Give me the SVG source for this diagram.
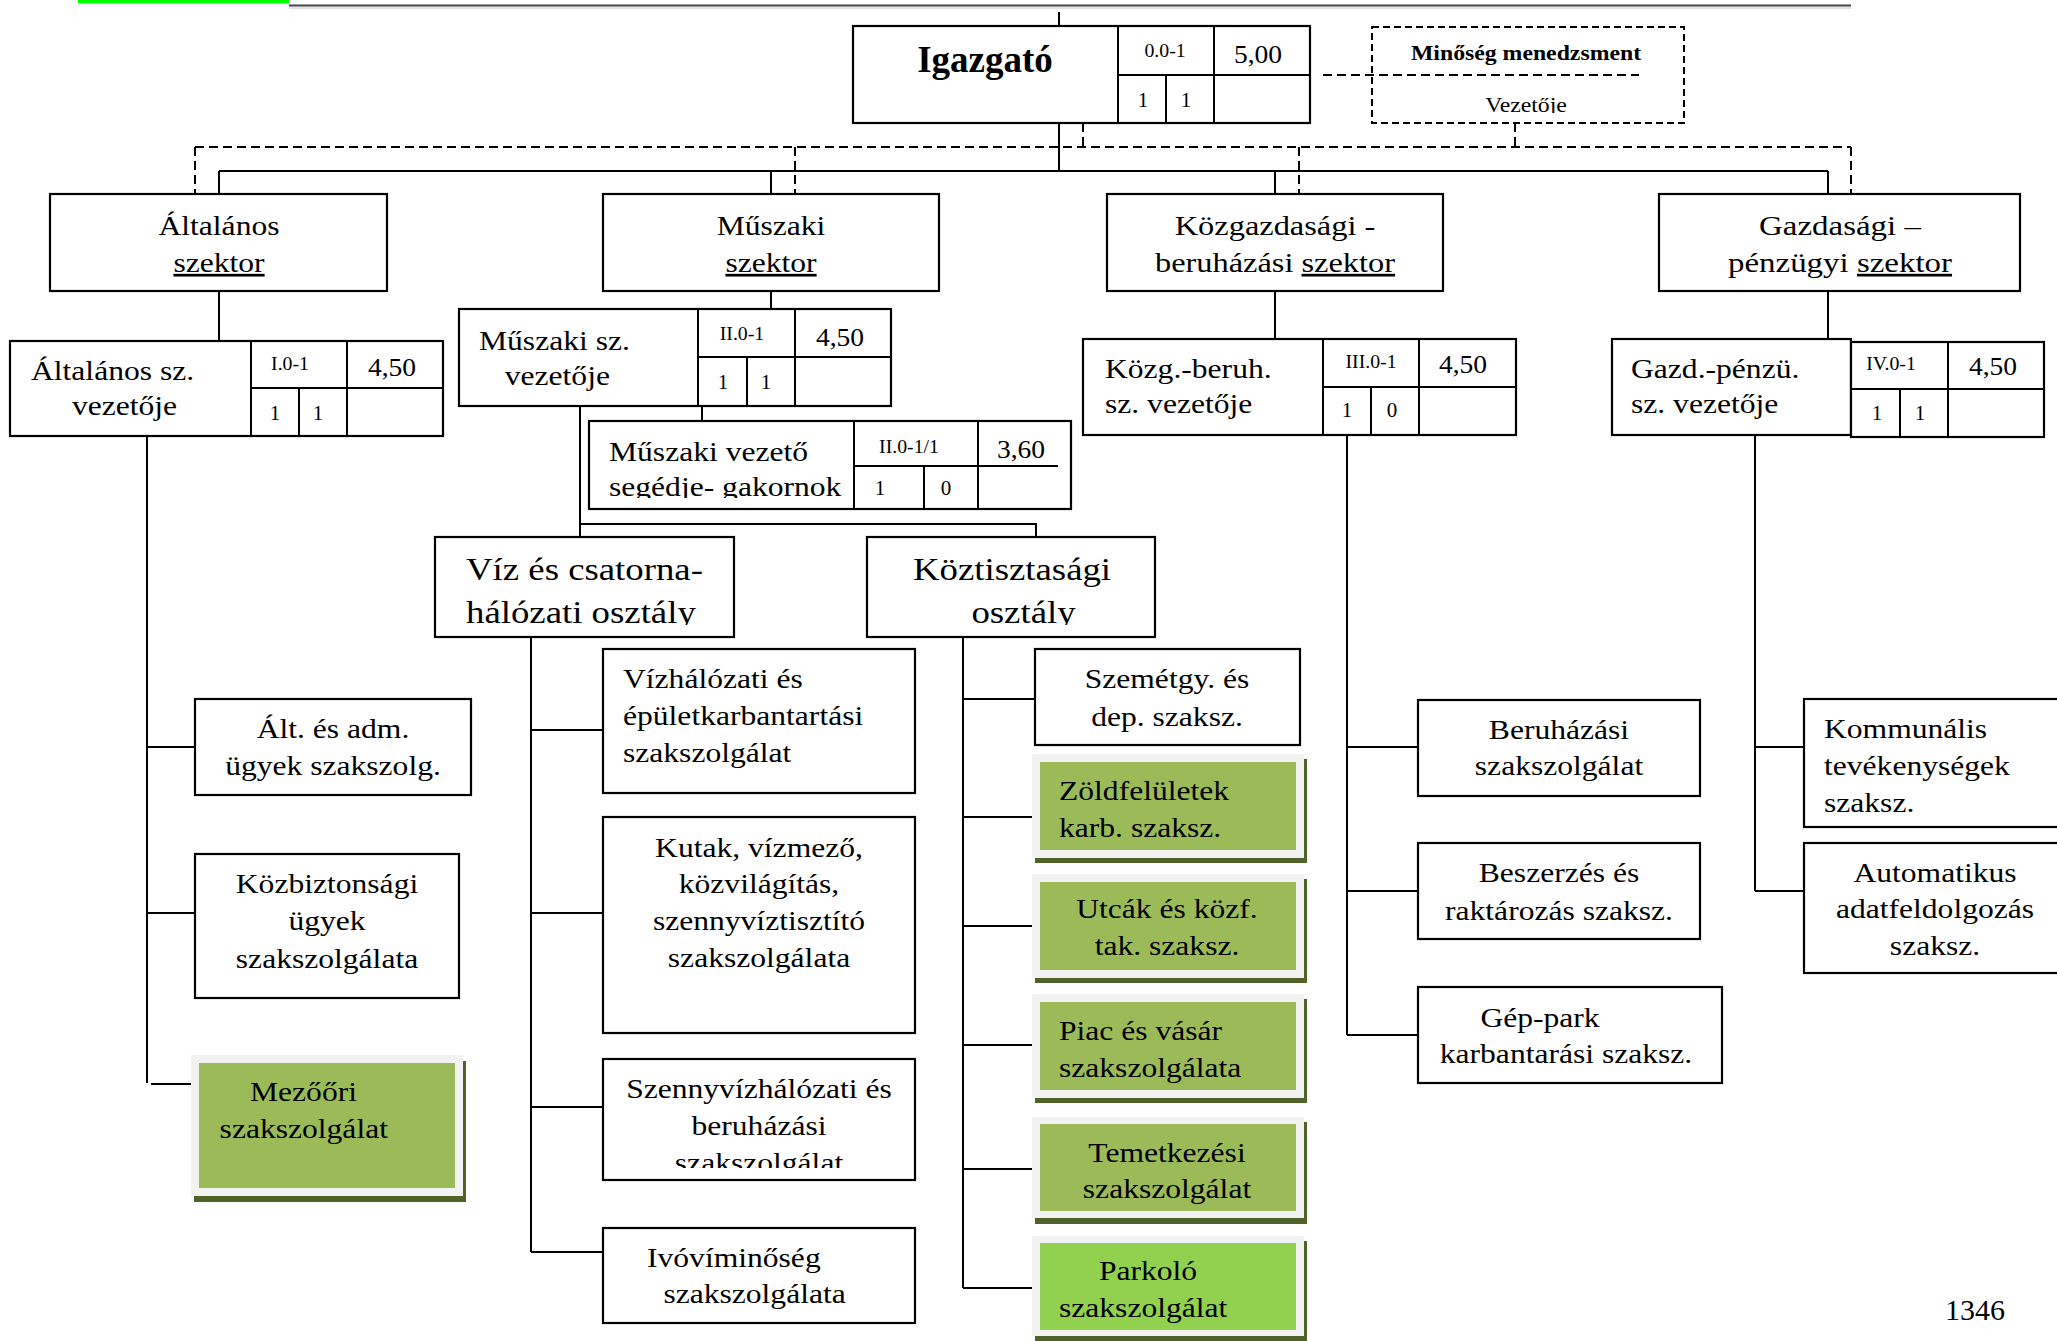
<svg xmlns="http://www.w3.org/2000/svg" width="2057" height="1341" viewBox="0 0 2057 1341">
<style>
.bx{fill:#fff;stroke:#000;stroke-width:2.2}
.ln{fill:none;stroke:#000;stroke-width:2}
.dl{fill:none;stroke:#000;stroke-width:2;stroke-dasharray:9 5}
.t{font-family:"Liberation Serif","Times New Roman",serif;font-size:27px;fill:#000}
.c{text-anchor:middle}
.sm{font-size:18px}
.md{font-size:25px}
.nm{font-size:21px}
.big{font-size:32px}
.hd{font-size:37px;font-weight:bold}
.mq{font-size:22px}
.b{font-weight:bold}
.pg{font-size:30px}
.u{text-decoration:underline}
.gb{fill:#f2f2f2}
.gs{fill:#4f6228}
.gi{fill:#9bbb59}
.gp{fill:#92d050}
</style>
<defs>
<clipPath id="clipVez"><rect x="1372" y="27" width="312" height="86"/></clipPath>
<clipPath id="clipSeg"><rect x="589" y="421" width="265" height="77"/></clipPath>
<clipPath id="clipViz"><rect x="435" y="537" width="299" height="88"/></clipPath>
<clipPath id="clipKoz"><rect x="867" y="537" width="288" height="88"/></clipPath>
<clipPath id="clipSzv"><rect x="603" y="1059" width="312" height="109"/></clipPath>
</defs>

<!-- page header remnants -->
<rect x="78" y="0" width="211" height="3.5" fill="#00ff00"/>
<line x1="289" y1="8" x2="1851" y2="8" stroke="#e0e0e0" stroke-width="2"/>
<line x1="289" y1="5.5" x2="1851" y2="5.5" stroke="#444" stroke-width="2"/>

<g id="connectors">
  <path class="ln" d="M1059,12 V171 M219,171 H1828 M219,171 V194 M771,171 V194 M1275,171 V194 M1828,171 V194"/>
  <path class="dl" d="M1083,123 V147 M1515,123 V147 M195,147 H1851 M195,147 V194 M795,147 V194 M1299,147 V194 M1851,147 V194 M1323,75 H1639"/>
  <path class="ln" d="M219,291 V341 M771,291 V309 M1275,291 V339 M1828,291 V339 M702,406 V421"/>
  <path class="ln" d="M147,436 V1083 M147,747 H195 M147,913 H195 M151,1084 H192"/>
  <path class="ln" d="M580,406 V537 M580,524 H1036 V537"/>
  <path class="ln" d="M531,637 V1252 M531,730 H603 M531,913 H603 M531,1107 H603 M531,1252 H603"/>
  <path class="ln" d="M963,637 V1288 M963,699 H1035 M963,817 H1033 M963,926 H1033 M963,1045 H1033 M963,1169 H1033 M963,1288 H1033"/>
  <path class="ln" d="M1347,435 V1035 M1347,747 H1418 M1347,891 H1418 M1347,1035 H1418"/>
  <path class="ln" d="M1755,435 V891 M1755,747 H1804 M1755,891 H1804"/>
</g>

<g id="igazgato">
  <rect class="bx" x="853" y="26" width="457" height="97" stroke-width="2.6"/>
  <path class="ln" d="M1118,26 V123 M1214,26 V123 M1118,75 H1310 M1166,75 V123"/>
  <text class="t c hd" x="985" y="72">Igazgató</text>
  <text class="t c sm" transform="translate(1165,57) scale(1.1,1)">0.0-1</text>
  <text class="t c md" transform="translate(1258,63) scale(1.1,1)">5,00</text>
  <text class="t c nm" x="1143" y="107">1</text>
  <text class="t c nm" x="1186" y="107">1</text>
</g>

<g id="minoseg">
  <rect x="1372" y="27" width="312" height="96" fill="none" stroke="#000" stroke-width="2" stroke-dasharray="7 4"/>
  <text class="t c mq b" transform="translate(1526,60) scale(1.08,1)">Minőség menedzsment</text>
  <g clip-path="url(#clipVez)"><text class="t c mq" transform="translate(1526,112) scale(1.08,1)">Vezetője</text></g>
</g>

<g id="altalanos-szektor">
  <rect class="bx" x="50" y="194" width="337" height="97"/>
  <text class="t c" transform="translate(219,235) scale(1.17,1)"><tspan x="0">Általános</tspan><tspan x="0" y="37" class="u">szektor</tspan></text>
</g>
<g id="muszaki-szektor">
  <rect class="bx" x="603" y="194" width="336" height="97"/>
  <text class="t c" transform="translate(771,235) scale(1.17,1)"><tspan x="0">Műszaki</tspan><tspan x="0" y="37" class="u">szektor</tspan></text>
</g>
<g id="kozgazdasagi-szektor">
  <rect class="bx" x="1107" y="194" width="336" height="97"/>
  <text class="t c" transform="translate(1275,235) scale(1.2,1)"><tspan x="0">Közgazdasági -</tspan><tspan x="0" y="37">beruházási <tspan class="u">szektor</tspan></tspan></text>
</g>
<g id="gazdasagi-szektor">
  <rect class="bx" x="1659" y="194" width="361" height="97"/>
  <text class="t c" transform="translate(1840,235) scale(1.22,1)"><tspan x="0">Gazdasági –</tspan><tspan x="0" y="37">pénzügyi <tspan class="u">szektor</tspan></tspan></text>
</g>

<g id="altalanos-vezeto">
  <rect class="bx" x="10" y="341" width="433" height="95"/>
  <path class="ln" d="M251,341 V436 M347,341 V436 M251,388 H443 M299,388 V436"/>
  <text class="t" transform="translate(31,380) scale(1.17,1)"><tspan x="0">Általános sz.</tspan><tspan x="35" y="35">vezetője</tspan></text>
  <text class="t c sm" transform="translate(290,370) scale(1.1,1)">I.0-1</text>
  <text class="t c md" transform="translate(392,376) scale(1.1,1)">4,50</text>
  <text class="t c nm" x="275" y="420">1</text>
  <text class="t c nm" x="318" y="420">1</text>
</g>

<g id="muszaki-vezeto">
  <rect class="bx" x="459" y="309" width="432" height="97"/>
  <path class="ln" d="M698,309 V406 M795,309 V406 M698,357 H891 M747,357 V406"/>
  <text class="t" transform="translate(479,350) scale(1.17,1)"><tspan x="0">Műszaki sz.</tspan><tspan x="22" y="35">vezetője</tspan></text>
  <text class="t c sm" transform="translate(742,340) scale(1.1,1)">II.0-1</text>
  <text class="t c md" transform="translate(840,346) scale(1.1,1)">4,50</text>
  <text class="t c nm" x="723" y="389">1</text>
  <text class="t c nm" x="766" y="389">1</text>
</g>

<g id="muszaki-segedje">
  <rect class="bx" x="589" y="421" width="482" height="88"/>
  <path class="ln" d="M854,421 V509 M978,421 V509 M854,466 H1058 M924,466 V509"/>
  <text class="t" transform="translate(609,461) scale(1.17,1)">Műszaki vezető</text>
  <g clip-path="url(#clipSeg)"><text class="t" transform="translate(609,496) scale(1.17,1)">segédje- gakornok</text></g>
  <text class="t c sm" transform="translate(909,453) scale(1.1,1)">II.0-1/1</text>
  <text class="t c md" transform="translate(1021,458) scale(1.1,1)">3,60</text>
  <text class="t c nm" x="880" y="495">1</text>
  <text class="t c nm" x="946" y="495">0</text>
</g>

<g id="kozg-vezeto">
  <rect class="bx" x="1083" y="339" width="433" height="96"/>
  <path class="ln" d="M1323,339 V435 M1419,339 V435 M1323,387 H1516 M1371,387 V435"/>
  <text class="t" transform="translate(1105,378) scale(1.17,1)"><tspan x="0">Közg.-beruh.</tspan><tspan x="0" y="35">sz. vezetője</tspan></text>
  <text class="t c sm" transform="translate(1371,368) scale(1.1,1)">III.0-1</text>
  <text class="t c md" transform="translate(1463,373) scale(1.1,1)">4,50</text>
  <text class="t c nm" x="1347" y="417">1</text>
  <text class="t c nm" x="1392" y="417">0</text>
</g>

<g id="gazd-vezeto">
  <rect class="bx" x="1612" y="339" width="239" height="96"/>
  <rect class="bx" x="1851" y="342" width="193" height="95"/>
  <path class="ln" d="M1948,342 V437 M1851,389 H2044 M1900,389 V437"/>
  <text class="t" transform="translate(1631,378) scale(1.17,1)"><tspan x="0">Gazd.-pénzü.</tspan><tspan x="0" y="35">sz. vezetője</tspan></text>
  <text class="t c sm" transform="translate(1891,370) scale(1.1,1)">IV.0-1</text>
  <text class="t c md" transform="translate(1993,375) scale(1.1,1)">4,50</text>
  <text class="t c nm" x="1877" y="420">1</text>
  <text class="t c nm" x="1920" y="420">1</text>
</g>

<g id="viz-osztaly">
  <rect class="bx" x="435" y="537" width="299" height="100"/>
  <g clip-path="url(#clipViz)"><text class="t big" transform="translate(466,580) scale(1.15,1)"><tspan x="0">Víz és csatorna-</tspan><tspan x="0" y="43">hálózati osztály</tspan></text></g>
</g>
<g id="koztisztasagi-osztaly">
  <rect class="bx" x="867" y="537" width="288" height="100"/>
  <g clip-path="url(#clipKoz)"><text class="t big c" transform="translate(1012,580) scale(1.15,1)"><tspan x="0">Köztisztasági</tspan><tspan x="10" y="43">osztály</tspan></text></g>
</g>

<g id="alt-adm">
  <rect class="bx" x="195" y="699" width="276" height="96"/>
  <text class="t c" transform="translate(333,738) scale(1.17,1)"><tspan x="0">Ált. és adm.</tspan><tspan x="0" y="37">ügyek szakszolg.</tspan></text>
</g>
<g id="kozbiztonsagi">
  <rect class="bx" x="195" y="854" width="264" height="144"/>
  <text class="t c" transform="translate(327,893) scale(1.17,1)"><tspan x="0">Közbiztonsági</tspan><tspan x="0" y="37">ügyek</tspan><tspan x="0" y="75">szakszolgálata</tspan></text>
</g>
<g id="mezoori">
  <rect class="gs" x="194" y="1061" width="272" height="141"/>
  <rect class="gb" x="191" y="1055" width="272" height="141"/>
  <rect class="gi" x="199" y="1063" width="256" height="125"/>
  <text class="t" transform="translate(250,1101) scale(1.17,1)"><tspan x="0">Mezőőri</tspan><tspan x="-26" y="37">szakszolgálat</tspan></text>
</g>

<g id="vizhalozati">
  <rect class="bx" x="603" y="649" width="312" height="144"/>
  <text class="t" transform="translate(623,688) scale(1.17,1)"><tspan x="0">Vízhálózati és</tspan><tspan x="0" y="37">épületkarbantartási</tspan><tspan x="0" y="74">szakszolgálat</tspan></text>
</g>
<g id="kutak">
  <rect class="bx" x="603" y="817" width="312" height="216"/>
  <text class="t c" transform="translate(759,857) scale(1.17,1)"><tspan x="0">Kutak, vízmező,</tspan><tspan x="0" y="36">közvilágítás,</tspan><tspan x="0" y="73">szennyvíztisztító</tspan><tspan x="0" y="110">szakszolgálata</tspan></text>
</g>
<g id="szennyvizhalozati">
  <rect class="bx" x="603" y="1059" width="312" height="121"/>
  <g clip-path="url(#clipSzv)"><text class="t c" transform="translate(759,1098) scale(1.17,1)"><tspan x="0">Szennyvízhálózati és</tspan><tspan x="0" y="37">beruházási</tspan><tspan x="0" y="74">szakszolgálat</tspan></text></g>
</g>
<g id="ivoviminoseg">
  <rect class="bx" x="603" y="1228" width="312" height="95"/>
  <text class="t" transform="translate(647,1267) scale(1.17,1)"><tspan x="0">Ivóvíminőség</tspan><tspan x="14" y="36">szakszolgálata</tspan></text>
</g>

<g id="szemetgy">
  <rect class="bx" x="1035" y="649" width="265" height="96"/>
  <text class="t c" transform="translate(1167,688) scale(1.17,1)"><tspan x="0">Szemétgy. és</tspan><tspan x="0" y="38">dep. szaksz.</tspan></text>
</g>
<g id="zoldfeluletek">
  <rect class="gs" x="1035" y="759" width="272" height="104"/>
  <rect class="gb" x="1032" y="754" width="272" height="104"/>
  <rect class="gi" x="1040" y="762" width="256" height="88"/>
  <text class="t" transform="translate(1059,800) scale(1.17,1)"><tspan x="0">Zöldfelületek</tspan><tspan x="0" y="37">karb. szaksz.</tspan></text>
</g>
<g id="utcak">
  <rect class="gs" x="1035" y="879" width="272" height="104"/>
  <rect class="gb" x="1032" y="874" width="272" height="104"/>
  <rect class="gi" x="1040" y="882" width="256" height="88"/>
  <text class="t c" transform="translate(1167,918) scale(1.17,1)"><tspan x="0">Utcák és közf.</tspan><tspan x="0" y="37">tak. szaksz.</tspan></text>
</g>
<g id="piac">
  <rect class="gs" x="1035" y="999" width="272" height="104"/>
  <rect class="gb" x="1032" y="994" width="272" height="104"/>
  <rect class="gi" x="1040" y="1002" width="256" height="88"/>
  <text class="t" transform="translate(1059,1040) scale(1.17,1)"><tspan x="0">Piac és vásár</tspan><tspan x="0" y="37">szakszolgálata</tspan></text>
</g>
<g id="temetkezesi">
  <rect class="gs" x="1035" y="1122" width="272" height="102"/>
  <rect class="gb" x="1032" y="1117" width="272" height="101"/>
  <rect class="gi" x="1040" y="1124" width="256" height="87"/>
  <text class="t c" transform="translate(1167,1162) scale(1.17,1)"><tspan x="0">Temetkezési</tspan><tspan x="0" y="36">szakszolgálat</tspan></text>
</g>
<g id="parkolo">
  <rect class="gs" x="1035" y="1241" width="272" height="100"/>
  <rect class="gb" x="1032" y="1236" width="272" height="100"/>
  <rect class="gp" x="1040" y="1243" width="256" height="87"/>
  <text class="t c" transform="translate(1148,1280) scale(1.17,1)">Parkoló</text>
  <text class="t" transform="translate(1059,1317) scale(1.17,1)">szakszolgálat</text>
</g>

<g id="beruhazasi">
  <rect class="bx" x="1418" y="700" width="282" height="96"/>
  <text class="t c" transform="translate(1559,739) scale(1.17,1)"><tspan x="0">Beruházási</tspan><tspan x="0" y="36">szakszolgálat</tspan></text>
</g>
<g id="beszerzes">
  <rect class="bx" x="1418" y="843" width="282" height="96"/>
  <text class="t c" transform="translate(1559,882) scale(1.17,1)"><tspan x="0">Beszerzés és</tspan><tspan x="0" y="38">raktározás szaksz.</tspan></text>
</g>
<g id="geppark">
  <rect class="bx" x="1418" y="987" width="304" height="96"/>
  <text class="t c" transform="translate(1540,1027) scale(1.17,1)">Gép-park</text>
  <text class="t c" transform="translate(1566,1063) scale(1.17,1)">karbantarási szaksz.</text>
</g>
<g id="kommunalis">
  <rect class="bx" x="1804" y="699" width="270" height="128"/>
  <text class="t" transform="translate(1824,738) scale(1.17,1)"><tspan x="0">Kommunális</tspan><tspan x="0" y="37">tevékenységek</tspan><tspan x="0" y="74">szaksz.</tspan></text>
</g>
<g id="automatikus">
  <rect class="bx" x="1804" y="843" width="270" height="130"/>
  <text class="t c" transform="translate(1935,882) scale(1.17,1)"><tspan x="0">Automatikus</tspan><tspan x="0" y="36">adatfeldolgozás</tspan><tspan x="0" y="73">szaksz.</tspan></text>
</g>

<text class="t pg" x="1945" y="1320">1346</text>
</svg>
